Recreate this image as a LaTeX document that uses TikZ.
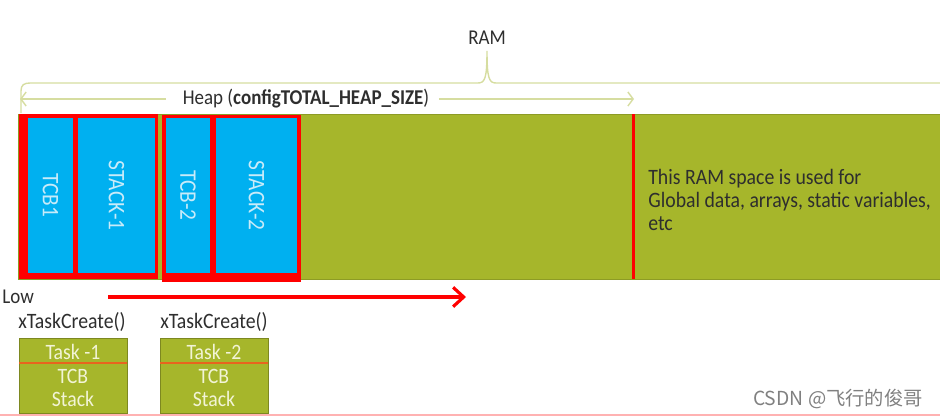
\documentclass[tikz,border=0pt]{standalone}
\usepackage{fontspec}
\setmainfont{Carlito}[FakeStretch=0.9]
\newfontfamily\cjkfont{Noto Sans CJK SC}
\usetikzlibrary{arrows.meta,positioning,calc}
\definecolor{RamGreen}{HTML}{A6B62B}
\definecolor{RamBlue}{HTML}{00B0F0}
\definecolor{RamRed}{HTML}{FF0000}
\definecolor{RamPale}{HTML}{D6DDA0}
\definecolor{RamBlueTxt}{HTML}{C8EBF9}
\definecolor{RamCream}{HTML}{F2F4D6}
\definecolor{RamOrange}{HTML}{E8641E}
\definecolor{RamInk}{HTML}{2E2E2E}

\begin{document}
\begin{tikzpicture}[x=0.02cm, y=-0.02cm, font=\fontsize{12}{13.3}\selectfont, text=RamInk,
    cell/.style={anchor=north west, inner sep=0pt, outer sep=0pt},
    blk/.style={cell, fill=RamBlue, minimum height=3.1cm},
    lbl/.style={rotate=-90, text=RamBlueTxt, font=\fontsize{13.5}{15}\selectfont},
    task/.style={cell, fill=RamGreen, draw=RamGreen!75!black, minimum width=2.16cm, minimum height=1.5cm, text=RamCream, align=center, font=\fontsize{12.5}{13.3}\selectfont},
    pale/.style={RamPale, line width=0.8pt}]
  \useasboundingbox (0,0) rectangle (940,417);

  % RAM bar
  \node[cell, fill=RamGreen, draw=RamGreen!85!black, line width=0.4pt, minimum width=18.6cm, minimum height=3.3cm] (bar) at (18,114) {};
  \node[cell, fill=RamRed, minimum width=2.78cm, minimum height=3.3cm] (grp1) at (19,114) {};
  \node[cell, fill=RamRed, minimum width=2.78cm, minimum height=3.34cm] (grp2) at (162,115) {};
  \node[blk, minimum width=0.9cm, label={[lbl]center:TCB1}] (tcb1) at (28,118) {};
  \node[blk, minimum width=1.54cm, label={[lbl]center:STACK-1}] (stack1) at (78,118) {};
  \node[blk, minimum width=0.88cm, label={[lbl]center:TCB-2}] (tcb2) at (166,118) {};
  \node[blk, minimum width=1.62cm, label={[lbl]center:STACK-2}] (stack2) at (216,118) {};
  \draw[RamRed, line width=1.7pt] (633,114) -- (633,279);
  \node[anchor=west, align=left, inner sep=0pt, font=\fontsize{12.5}{13.3}\selectfont] (note) at (648,200) {This RAM space is used for\\Global data, arrays, static variables,\\etc};

  % brace and heap size
  \node (ram) at (487,38) {RAM};
  \draw[pale] (21,113) -- (21,91) .. controls (21,85) and (24,83) .. (30,83) -- (478,83)
    .. controls (485,83) and (487,78) .. (ram.south) .. controls (487,78) and (489,83) .. (496,83) -- (950,83);
  \node (heap) at (306,99) {Heap (\textbf{configTOTAL\_HEAP\_SIZE})};
  \coordinate (heapL) at (20,99);
  \coordinate (heapR) at (634,99);
  \draw[pale, -{Straight Barb[length=3pt,width=8pt]}, shorten <=6pt] (heap.west) -- (heapL);
  \draw[pale, -{Straight Barb[length=3pt,width=8pt]}, shorten <=2pt] (heap.east) -- (heapR);

  % growth direction
  \node[anchor=west, inner sep=0pt] (low) at (2,297) {Low};
  \coordinate (growS) at (108,297);
  \coordinate (growE) at (466,297);
  \draw[RamRed, line width=1.8pt, -{Straight Barb[length=6pt,width=11pt]}] (growS) -- (growE);

  % tasks
  \node[anchor=west, inner sep=0pt, font=\fontsize{12.5}{14}\selectfont] (create1) at (18,322) {xTaskCreate()};
  \node[anchor=west, inner sep=0pt, font=\fontsize{12.5}{14}\selectfont] (create2) at (160,322) {xTaskCreate()};
  \node[task] (task1) at (19,338) {Task -1\\TCB\\Stack};
  \node[task] (task2) at (160,338) {Task -2\\TCB\\Stack};
  \draw[RamOrange, line width=0.8pt] ([yshift=-0.5cm]task1.north west) -- ([yshift=-0.5cm]task1.north east);
  \draw[RamOrange, line width=0.8pt] ([yshift=-0.5cm]task2.north west) -- ([yshift=-0.5cm]task2.north east);

  \draw[RamRed!30, line width=0.6pt] (0,415) -- (940,415);
  \node[text=gray, font=\cjkfont\fontsize{11}{13}\selectfont] (mark) at (838,399) {CSDN @飞行的俊哥};
\end{tikzpicture}
\end{document}
